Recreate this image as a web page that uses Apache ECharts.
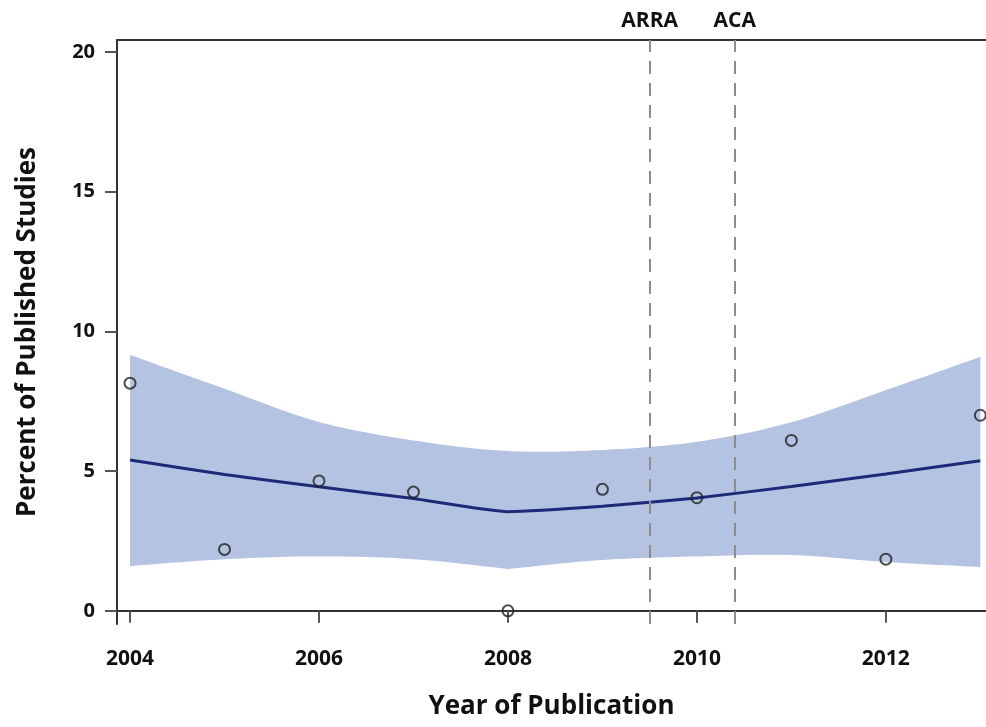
<!DOCTYPE html>
<html>
<head>
<meta charset="utf-8">
<script src="https://cdn.jsdelivr.net/npm/echarts@6/dist/echarts.min.js"></script>
<style>
  html, body { margin: 0; padding: 0; background: #fff; }
  #container { width: 986px; height: 727px; }
</style>
</head>
<body>
<div id="container"></div>
<script>
// data
var years = [2004, 2005, 2006, 2007, 2008, 2009, 2010, 2011, 2012, 2013];
var observed = [8.15, 2.2, 4.65, 4.25, 0, 4.35, 4.05, 6.1, 1.85, 7.0];
var fitted = [5.4, 4.88, 4.44, 4.02, 3.55, 3.74, 4.04, 4.45, 4.9, 5.37];
var lowerCL = [1.6, 1.85, 1.95, 1.85, 1.5, 1.82, 1.95, 2.0, 1.75, 1.57];
var upperCL = [9.16, 7.95, 6.76, 6.1, 5.72, 5.76, 6.05, 6.75, 7.9, 9.09];
var xTicks = [2004, 2006, 2008, 2010, 2012];
var yTicks = [0, 5, 10, 15, 20];
var events = [{ name: 'ARRA', year: 2009.5 }, { name: 'ACA', year: 2010.4 }];
var knot = 4; // the fit has a kink at 2008

var font = 'Open Sans';

function pairs(ys) {
    return years.map(function (y, i) { return [y, ys[i]]; });
}

var dom = document.getElementById('container');
var myChart = echarts.init(dom, null, { renderer: 'canvas' });

// catmull-rom through pixel points, just to draw a smooth edge
function smoothEdge(p) {
    var out = [];
    for (var i = 0; i < p.length - 1; i++) {
        var p0 = p[Math.max(i - 1, 0)], p1 = p[i], p2 = p[i + 1], p3 = p[Math.min(i + 2, p.length - 1)];
        for (var s = 0; s < 12; s++) {
            var t = s / 12, t2 = t * t, t3 = t2 * t;
            out.push([0, 1].map(function (k) {
                return 0.5 * ((2 * p1[k]) + (-p0[k] + p2[k]) * t +
                    (2 * p0[k] - 5 * p1[k] + 4 * p2[k] - p3[k]) * t2 +
                    (-p0[k] + 3 * p1[k] - 3 * p2[k] + p3[k]) * t3);
            }));
        }
    }
    out.push(p[p.length - 1]);
    return out;
}

function renderBand(params, api) {
    var up = years.map(function (y, i) { return api.coord([y, upperCL[i]]); });
    var lo = years.map(function (y, i) { return api.coord([y, lowerCL[i]]); });
    // lower edge keeps its corner at the knot
    var loEdge = smoothEdge(lo.slice(0, knot + 1)).concat(smoothEdge(lo.slice(knot)).slice(1));
    var pts = smoothEdge(up).concat(loEdge.reverse());
    return {
        type: 'polygon',
        shape: { points: pts },
        style: { fill: '#b4c3e1' }
    };
}

var option = {
    animation: false,
    grid: { left: 117, top: 40, width: 869, height: 584 },
    xAxis: [{
        type: 'value',
        min: 2003.862, max: 2013.06,
        name: 'Year of Publication',
        nameLocation: 'middle',
        nameGap: 70,
        nameTextStyle: { fontFamily: font, fontWeight: 'bold', fontSize: 26, color: '#111' },
        axisLine: { lineStyle: { color: '#333', width: 2 } },
        axisTick: { length: 12, customValues: xTicks, lineStyle: { color: '#555', width: 2 } },
        axisLabel: {
            customValues: xTicks, margin: 25,
            fontFamily: font, fontWeight: 'bold', fontSize: 21, color: '#111',
            formatter: function (v) { return String(v); }
        },
        splitLine: { show: false }
    }, {
        // top frame line only
        type: 'value', position: 'top',
        min: 2003.862, max: 2013.06,
        axisLine: { lineStyle: { color: '#333', width: 2 } },
        axisTick: { show: false }, axisLabel: { show: false }, splitLine: { show: false }
    }],
    yAxis: {
        type: 'value',
        min: -0.47, max: 20.43,
        name: 'Percent of Published Studies',
        nameLocation: 'middle',
        nameGap: 76,
        nameTextStyle: { fontFamily: font, fontWeight: 'bold', fontSize: 26, color: '#111' },
        axisLine: { show: true, lineStyle: { color: '#333', width: 2 } },
        axisTick: { show: true, length: 12, customValues: yTicks, lineStyle: { color: '#555', width: 2 } },
        axisLabel: {
            customValues: yTicks, margin: 22,
            fontFamily: font, fontWeight: 'bold', fontSize: 20, color: '#111'
        },
        splitLine: { show: false }
    },
    series: [
        {
            name: 'band',
            type: 'custom',
            renderItem: renderBand,
            data: [[years[0], upperCL[0]]],
            silent: true,
            z: 1
        },
        {
            name: 'fit',
            type: 'line',
            data: pairs(fitted),
            symbol: 'none',
            smooth: 0.15,
            lineStyle: { color: '#1c2a78', width: 3 },
            z: 3
        },
        {
            name: 'observed',
            type: 'scatter',
            data: pairs(observed),
            symbol: 'circle',
            symbolSize: 11,
            itemStyle: { color: 'rgba(0,0,0,0)', borderColor: '#222', borderWidth: 2 },
            z: 4,
            markLine: {
                silent: true,
                symbol: 'none',
                lineStyle: { color: '#8c8c8c', width: 2, type: [13, 9] },
                label: {
                    position: 'end', distance: 8,
                    fontFamily: font, fontWeight: 'bold', fontSize: 21, color: '#111',
                    formatter: function (p) { return p.name; }
                },
                data: events.map(function (e) { return { name: e.name, xAxis: e.year }; })
            }
        }
    ]
};

myChart.setOption(option);
</script>
</body>
</html>
